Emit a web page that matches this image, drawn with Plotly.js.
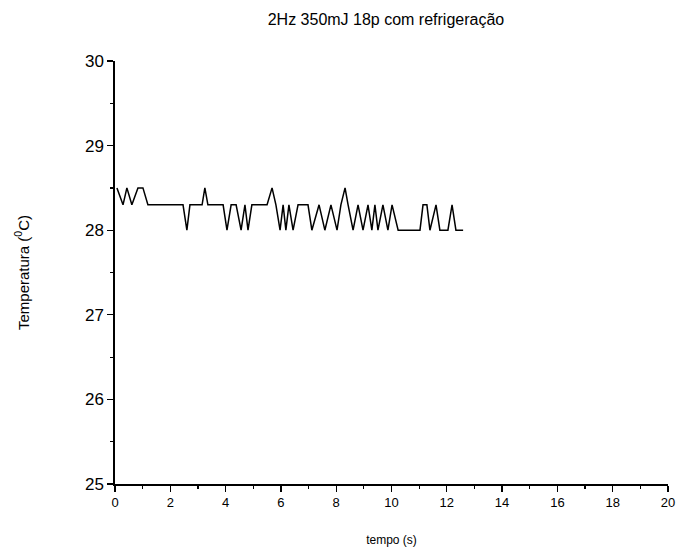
<!DOCTYPE html>
<html>
<head>
<meta charset="utf-8">
<script src="https://cdn.plot.ly/plotly-3.0.1.min.js"></script>
<style>html,body{margin:0;padding:0;background:#fff;}#chart{width:681px;height:547px;}</style>
</head>
<body>
<div id="chart"></div>
<script>
// time (s) of each vertex
var tempo = [0.07, 0.29, 0.43, 0.61, 0.83, 1.01, 1.19, 2.46, 2.60, 2.71,
  3.15, 3.25, 3.36, 3.91, 4.05, 4.20, 4.38, 4.56, 4.70, 4.81,
  4.95, 5.50, 5.68, 5.82, 5.97, 6.08, 6.18, 6.29, 6.44, 6.62,
  6.98, 7.12, 7.38, 7.59, 7.81, 8.03, 8.17, 8.32, 8.43, 8.61,
  8.79, 8.97, 9.15, 9.29, 9.40, 9.51, 9.69, 9.87, 10.02, 10.24,
  11.03, 11.14, 11.28, 11.39, 11.61, 11.75, 12.04, 12.19, 12.33, 12.59];
// temperature (°C)
var temperatura = [28.5, 28.3, 28.5, 28.3, 28.5, 28.5, 28.3, 28.3, 28.0, 28.3,
  28.3, 28.5, 28.3, 28.3, 28.0, 28.3, 28.3, 28.0, 28.3, 28.0,
  28.3, 28.3, 28.5, 28.3, 28.0, 28.3, 28.0, 28.3, 28.0, 28.3,
  28.3, 28.0, 28.3, 28.0, 28.3, 28.0, 28.3, 28.5, 28.3, 28.0,
  28.3, 28.0, 28.3, 28.0, 28.3, 28.0, 28.3, 28.0, 28.3, 28.0,
  28.0, 28.3, 28.3, 28.0, 28.3, 28.0, 28.0, 28.3, 28.0, 28.0];

var xTicks = [0, 2, 4, 6, 8, 10, 12, 14, 16, 18, 20];
var yTicks = [25, 26, 27, 28, 29, 30];

var font = 'Liberation Sans, Arial, sans-serif';

Plotly.newPlot('chart', [{
  x: tempo, y: temperatura, type: 'scatter', mode: 'lines',
  line: {color: '#000', width: 1.5}, hoverinfo: 'none'
}], {
  width: 681, height: 547,
  margin: {l: 115, r: 13, t: 61, b: 63},
  paper_bgcolor: '#fff', plot_bgcolor: '#fff',
  showlegend: false,
  font: {family: font, color: '#000'},
  title: {text: '2Hz 350mJ 18p com refrigeração', font: {family: font, size: 16, color: '#000'},
    x: 0.49, xref: 'paper', xanchor: 'center', y: 1 - 19/547, yref: 'container', yanchor: 'middle'},
  xaxis: {
    range: [0, 20], tickvals: xTicks, ticktext: xTicks.map(String),
    showgrid: false, zeroline: false, showline: true, linecolor: '#000', linewidth: 1.6,
    ticks: 'outside', ticklen: 6, tickwidth: 1.4, tickcolor: '#000',
    minor: {ticks: 'outside', dtick: 1, ticklen: 3, tickwidth: 1.2, tickcolor: '#000', showgrid: false},
    tickfont: {family: font, size: 13, color: '#000'},
    title: {text: 'tempo (s)', font: {family: font, size: 12, color: '#000'}, standoff: 26}
  },
  yaxis: {
    range: [25, 30], tickvals: yTicks, ticktext: yTicks.map(String),
    showgrid: false, zeroline: false, showline: true, linecolor: '#000', linewidth: 1.6,
    ticks: 'outside', ticklen: 6, tickwidth: 1.4, tickcolor: '#000',
    minor: {ticks: 'outside', dtick: 0.5, ticklen: 3, tickwidth: 1.2, tickcolor: '#000', showgrid: false},
    tickfont: {family: font, size: 17, color: '#000'},
    title: {text: 'Temperatura (<sup>0</sup>C)', font: {family: font, size: 15, color: '#000'}, standoff: 52}
  }
}, {staticPlot: true, displayModeBar: false});
</script>
</body>
</html>
